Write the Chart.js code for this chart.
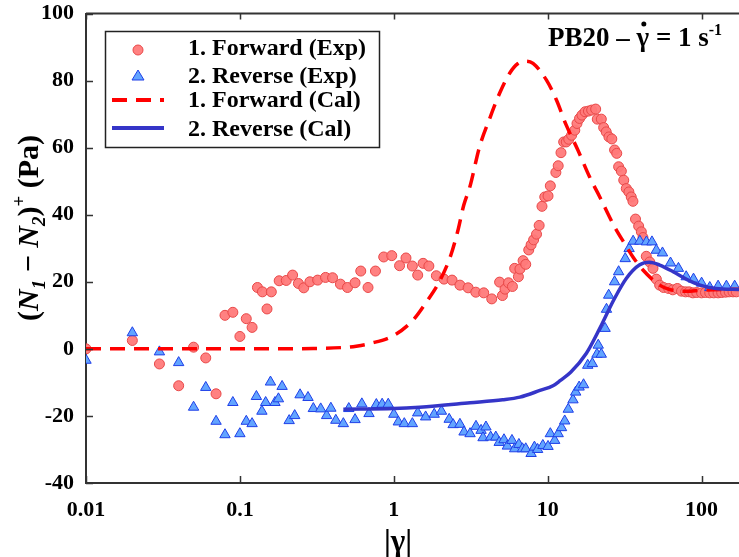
<!DOCTYPE html>
<html>
<head>
<meta charset="utf-8">
<script src="https://cdn.jsdelivr.net/npm/chart.js@4.4.0/dist/chart.umd.min.js"></script>
<style>
  body { margin: 0; background: #fff; overflow: hidden; }
</style>
</head>
<body>
<canvas id="chart" width="739" height="557"></canvas>
<script>
// tick values
const xTicks = [0.01, 0.1, 1, 10, 100];
const yTicks = [-40, -20, 0, 20, 40, 60, 80, 100];

// 1. Forward (Exp)
const fwdExpX = [0.01, 0.02, 0.03, 0.04, 0.05, 0.06, 0.07, 0.08, 0.09, 0.1, 0.11, 0.12, 0.13, 0.14, 0.15, 0.16, 0.18, 0.2, 0.22, 0.24,
  0.26, 0.285, 0.32, 0.36, 0.4, 0.45, 0.5, 0.56, 0.61, 0.68, 0.76, 0.86, 0.97, 1.09, 1.2, 1.32, 1.43, 1.55, 1.69, 1.89,
  2.12, 2.39, 2.69, 3.04, 3.41, 3.84, 4.33, 4.87, 5.08, 5.28, 5.56, 5.9, 6.1, 6.45, 6.6, 6.92, 7.2, 7.53, 7.8, 8.1,
  8.46, 8.8, 9.18, 9.57, 10.05, 10.4, 11.3, 11.7, 12.2, 12.7, 13.2, 13.7, 14.3, 15, 15.5, 16.1, 16.7, 17.5, 18.4, 19.3,
  20.5, 21, 22.3, 23.1, 24, 25, 26.1, 27.2, 28.1, 28.9, 30.1, 31.2, 32.4, 33.7, 34.9, 35.8, 37.2, 39, 40.6, 41.6,
  43.7, 46, 48.3, 50.8, 53.4, 56.6, 61.1, 65, 69.5, 74, 78.7, 83, 87.8, 93, 100, 106, 113, 120, 128, 135,
  143, 151, 160, 168];
const fwdExpY = [0, 2.5, -4.5, -11, 0.5, -2.7, -13.4, 10, 10.9, 3.7, 9, 6.4, 18.3, 17, 11.9, 17, 20.3, 20.4, 22, 19.5,
  18.2, 20, 20.5, 21.3, 21.2, 19.3, 18.3, 19.7, 23.2, 18.3, 23.2, 27.4, 27.8, 24.8, 27.1, 24.7, 22, 25.5, 24.7, 21.8,
  20.8, 20.5, 19, 18.2, 16.9, 16.7, 14.9, 19.9, 15.9, 17.8, 19.7, 18.6, 24, 21.5, 23.8, 26.3, 25.2, 29.5, 31, 32.5,
  34.2, 36.8, 42.5, 45.3, 45.6, 48.6, 52.6, 54.6, 58.5, 61.7, 61.7, 62.5, 63.7, 65.2, 67.2, 68.7, 69.7, 70.7, 70.9, 71.2,
  71.5, 68.5, 68.5, 66, 64.7, 63.2, 62.6, 59.3, 58.3, 54.3, 53, 50.3, 47.8, 46.8, 45.3, 44, 38.7, 36.6, 34.9, 33.2,
  27.6, 25.9, 24, 20.8, 19, 18.3, 18, 17.6, 18, 17.2, 17, 17, 16.7, 16.8, 16.7, 16.8, 16.7, 16.7, 16.7, 16.8,
  16.9, 17, 17, 17];

// 2. Reverse (Exp)
const revExpX = [0.01, 0.02, 0.03, 0.04, 0.05, 0.06, 0.07, 0.08, 0.09, 0.1, 0.11, 0.12, 0.128, 0.139, 0.147, 0.158, 0.169, 0.178, 0.188, 0.209,
  0.227, 0.246, 0.277, 0.3, 0.335, 0.366, 0.39, 0.42, 0.47, 0.51, 0.56, 0.62, 0.69, 0.77, 0.84, 0.92, 1.0, 1.07, 1.17, 1.32,
  1.43, 1.61, 1.83, 2.04, 2.29, 2.43, 2.69, 2.86, 3.13, 3.42, 3.69, 3.8, 3.97, 4.26, 4.6, 4.84, 5.2, 5.47, 5.86, 6.1,
  6.5, 6.85, 7.2, 7.8, 8.2, 8.6, 9.3, 10.05, 10.4, 11.1, 11.7, 12.3, 12.9, 13.6, 14.6, 15.2, 16, 17.1, 18.2, 19.5,
  20.9, 21.3, 22.3, 23.6, 24.1, 24.9, 27.2, 28.9, 31.9, 33.8, 35.9, 39.7, 43.8, 47.6, 50.8, 55.7, 62.8, 70.7, 79.4, 88.6,
  100, 113, 128, 145, 164];
const revExpY = [-3.4, 4.8, -0.9, -4.1, -17.4, -11.5, -21.6, -25.6, -16, -25.3, -21.6, -22.3, -14.2, -18.6, -16, -9.9, -16, -14.9, -11.2, -21.4,
  -19.9, -13.7, -14.5, -17.8, -17.9, -19.9, -17.7, -21.3, -22.3, -17.8, -21.1, -16.4, -19.3, -16.6, -16.5, -16.5, -19.5, -21.8, -22.3, -22.3,
  -19.1, -20.3, -19.5, -18.6, -21, -22.6, -22.5, -24.8, -25.3, -23.1, -24.3, -26.5, -23.3, -26.3, -26.3, -27.9, -27.1, -29, -27.3, -29.8,
  -28.5, -29.8, -29.8, -31.2, -29.3, -30, -28.8, -29.1, -25.3, -27.3, -25.3, -23.5, -21.5, -18, -15.2, -12.9, -11.4, -10.7, -4.9, -4.4,
  -1.6, 1.1, -1.6, 6.1, 11.8, 16, 20, 23, 26.9, 29.9, 32.1, 32.1, 31.9, 31.9, 29.4, 28.6, 25.6, 24, 21.5, 20.8,
  19.6, 18.3, 18.7, 18.7, 18.7];

// 1. Forward (Cal)
const fwdCalX = [0.01, 0.03, 0.1, 0.3, 0.5, 0.57, 0.7, 1.0, 1.33, 1.63, 2.0, 2.35, 2.6, 2.85, 3.12, 3.61, 4.2, 4.87, 5.66, 6.41,
  7.26, 8.03, 9.8, 11.4, 13.2, 15.7, 18.7, 21.8, 27.2, 31.6, 35.8, 41.6, 53.4, 62, 79.4, 100, 175];
const fwdCalY = [0, 0, 0, 0.1, 0.5, 0.8, 1.6, 4, 8.5, 14, 20.5, 28, 35, 42.9, 48.3, 60.3, 68.7, 76.2, 82.2, 85.1,
  85.8, 85.1, 80.2, 74.2, 66.7, 59.3, 51.3, 45.3, 36.4, 31.4, 27.4, 23.5, 19, 17.7, 17.2, 17.5, 17.8];

// 2. Reverse (Cal)
const revCalX = [0.47, 1.0, 1.47, 3.13, 5.1, 6.6, 8.9, 10.9, 12.1, 14.1, 17.8, 21.8, 26.8, 32.4, 39.4, 45.9, 53.4, 65.3, 79.4, 97.8,
  124, 176];
const revCalY = [-18, -17.8, -17.4, -16.1, -15.2, -14.4, -12.4, -10.9, -9.4, -7, -1.4, 6.1, 14.5, 21, 25, 25.8, 25, 23, 20.8, 19,
  18, 17.7];

const pts = (xs, ys) => xs.map((x, i) => ({ x: x, y: ys[i] }));

const SERIF = '"Liberation Serif", "Times New Roman", serif';
const AXIS = '#333';
const RED_FILL = 'rgba(255,122,122,0.95)';
const RED_EDGE = '#e84848';
const BLUE_FILL = '#62a4ff';
const BLUE_EDGE = '#1f3fe8';

// draw a run of text pieces (italic / sub / sup) starting at x
function richWidth(ctx, parts, size) {
  let w = 0;
  parts.forEach(p => {
    ctx.font = (p.it ? 'italic ' : '') + 'bold ' + (p.s || size) + 'px ' + SERIF;
    w += ctx.measureText(p.t).width;
  });
  return w;
}
function drawRich(ctx, parts, x, y, size) {
  parts.forEach(p => {
    ctx.font = (p.it ? 'italic ' : '') + 'bold ' + (p.s || size) + 'px ' + SERIF;
    ctx.fillText(p.t, x, y + (p.dy || 0));
    x += ctx.measureText(p.t).width;
  });
  return x;
}

const decorPlugin = {
  id: 'decor',
  afterDraw(chart) {
    const ctx = chart.ctx;
    const a = chart.chartArea;
    const xs = chart.scales.x, ys = chart.scales.y;
    ctx.save();
    ctx.strokeStyle = AXIS;
    ctx.lineWidth = 2;
    // top frame line
    ctx.beginPath();
    ctx.moveTo(a.left, a.top);
    ctx.lineTo(a.right, a.top);
    ctx.stroke();
    // inward ticks
    ctx.lineWidth = 1.5;
    ctx.beginPath();
    xTicks.forEach(v => {
      const px = Math.round(xs.getPixelForValue(v)) + 0.5;
      ctx.moveTo(px, a.bottom); ctx.lineTo(px, a.bottom - 7);
      ctx.moveTo(px, a.top); ctx.lineTo(px, a.top + 6);
    });
    yTicks.forEach(v => {
      const py = Math.round(ys.getPixelForValue(v)) + 0.5;
      ctx.moveTo(a.left, py); ctx.lineTo(a.left + 7, py);
    });
    ctx.stroke();

    // legend
    ctx.lineWidth = 1.5;
    ctx.strokeStyle = '#222';
    ctx.strokeRect(105.5, 31.5, 274, 116);
    ctx.fillStyle = '#000';
    ctx.textBaseline = 'alphabetic';
    ctx.font = 'bold 24px ' + SERIF;
    const labels = ['1. Forward (Exp)', '2. Reverse (Exp)', '1. Forward (Cal)', '2. Reverse (Cal)'];
    const rows = [55, 83, 107, 136];
    labels.forEach((t, i) => ctx.fillText(t, 188, rows[i]));
    // markers
    ctx.fillStyle = RED_FILL;
    ctx.strokeStyle = RED_EDGE;
    ctx.lineWidth = 1;
    ctx.beginPath(); ctx.arc(138, 50, 5, 0, Math.PI * 2); ctx.fill(); ctx.stroke();
    ctx.fillStyle = BLUE_FILL;
    ctx.strokeStyle = BLUE_EDGE;
    ctx.beginPath(); ctx.moveTo(138, 70); ctx.lineTo(144, 80); ctx.lineTo(132, 80); ctx.closePath(); ctx.fill(); ctx.stroke();
    ctx.strokeStyle = '#ff0000';
    ctx.lineWidth = 4;
    ctx.setLineDash([15, 9]);
    ctx.beginPath(); ctx.moveTo(112, 100); ctx.lineTo(164, 100); ctx.stroke();
    ctx.setLineDash([]);
    ctx.strokeStyle = '#3535c8';
    ctx.beginPath(); ctx.moveTo(112, 128); ctx.lineTo(164, 128); ctx.stroke();

    // annotation
    ctx.fillStyle = '#000';
    let x = drawRich(ctx, [{ t: 'PB20 \u2013 ' }], 548, 46, 27);
    const gx = x;
    x = drawRich(ctx, [{ t: '\u03b3' }], x, 46, 27);
    ctx.beginPath(); ctx.arc((gx + x) / 2 + 1, 24, 2.5, 0, Math.PI * 2); ctx.fill();
    drawRich(ctx, [{ t: ' = 1 s' }, { t: '-1', s: 16, dy: -11 }], x, 46, 27);

    // y title
    const yParts = [
      { t: '(' }, { t: 'N', it: true }, { t: '1', it: true, s: 19, dy: 7 },
      { t: ' \u2212 ' }, { t: 'N', it: true }, { t: '2', it: true, s: 19, dy: 7 },
      { t: ')' }, { t: '+', s: 19, dy: -13 }, { t: ' (Pa)' }
    ];
    const w = richWidth(ctx, yParts, 30);
    ctx.translate(38, 228);
    ctx.rotate(-Math.PI / 2);
    drawRich(ctx, yParts, -w / 2, 0, 30);
    ctx.restore();

    // x title (cut by the bottom edge)
    ctx.save();
    ctx.fillStyle = '#000';
    ctx.font = 'bold 31px ' + SERIF;
    ctx.fillText('|\u03b3|', 384, 551);
    ctx.restore();
  }
};

new Chart(document.getElementById('chart').getContext('2d'), {
  type: 'scatter',
  data: {
    datasets: [
      {
        label: '2. Reverse (Cal)',
        data: pts(revCalX, revCalY),
        showLine: true,
        borderColor: '#3535c8',
        borderWidth: 3.5,
        pointRadius: 0,
        cubicInterpolationMode: 'monotone',
        order: 0
      },
      {
        label: '1. Forward (Cal)',
        data: pts(fwdCalX, fwdCalY),
        showLine: true,
        borderColor: '#ff0000',
        borderWidth: 3.5,
        borderDash: [15, 9],
        pointRadius: 0,
        cubicInterpolationMode: 'monotone',
        order: 1
      },
      {
        label: '2. Reverse (Exp)',
        data: pts(revExpX, revExpY),
        pointStyle: 'triangle',
        pointRadius: 6,
        backgroundColor: BLUE_FILL,
        borderColor: BLUE_EDGE,
        borderWidth: 1,
        order: 2
      },
      {
        label: '1. Forward (Exp)',
        data: pts(fwdExpX, fwdExpY),
        pointStyle: 'circle',
        pointRadius: 5,
        backgroundColor: RED_FILL,
        borderColor: RED_EDGE,
        borderWidth: 1,
        order: 3
      }
    ]
  },
  options: {
    responsive: false,
    animation: false,
    devicePixelRatio: 1,
    layout: { autoPadding: false, padding: { top: 13.5, right: 0, left: 0, bottom: 0 } },
    plugins: { legend: { display: false }, tooltip: { enabled: false } },
    scales: {
      x: {
        type: 'logarithmic',
        min: 0.01,
        max: 175,
        afterBuildTicks: s => { s.ticks = xTicks.map(v => ({ value: v })); },
        afterFit: s => { s.height = 74; s.paddingLeft = 0; s.paddingRight = 0; },
        grid: { display: false, drawTicks: false },
        border: { display: true, color: AXIS, width: 2 },
        ticks: {
          padding: 14,
          color: '#000',
          font: { family: SERIF, size: 22, weight: 'bold' },
          callback: v => String(v)
        }
      },
      y: {
        min: -40,
        max: 100,
        afterBuildTicks: s => { s.ticks = yTicks.map(v => ({ value: v })); },
        afterFit: s => { s.width = 86; s.paddingTop = 0; s.paddingBottom = 0; },
        grid: { display: false, drawTicks: false },
        border: { display: true, color: AXIS, width: 2 },
        ticks: {
          padding: 12,
          color: '#000',
          font: { family: SERIF, size: 22, weight: 'bold' }
        }
      }
    }
  },
  plugins: [decorPlugin]
});
</script>
</body>
</html>
